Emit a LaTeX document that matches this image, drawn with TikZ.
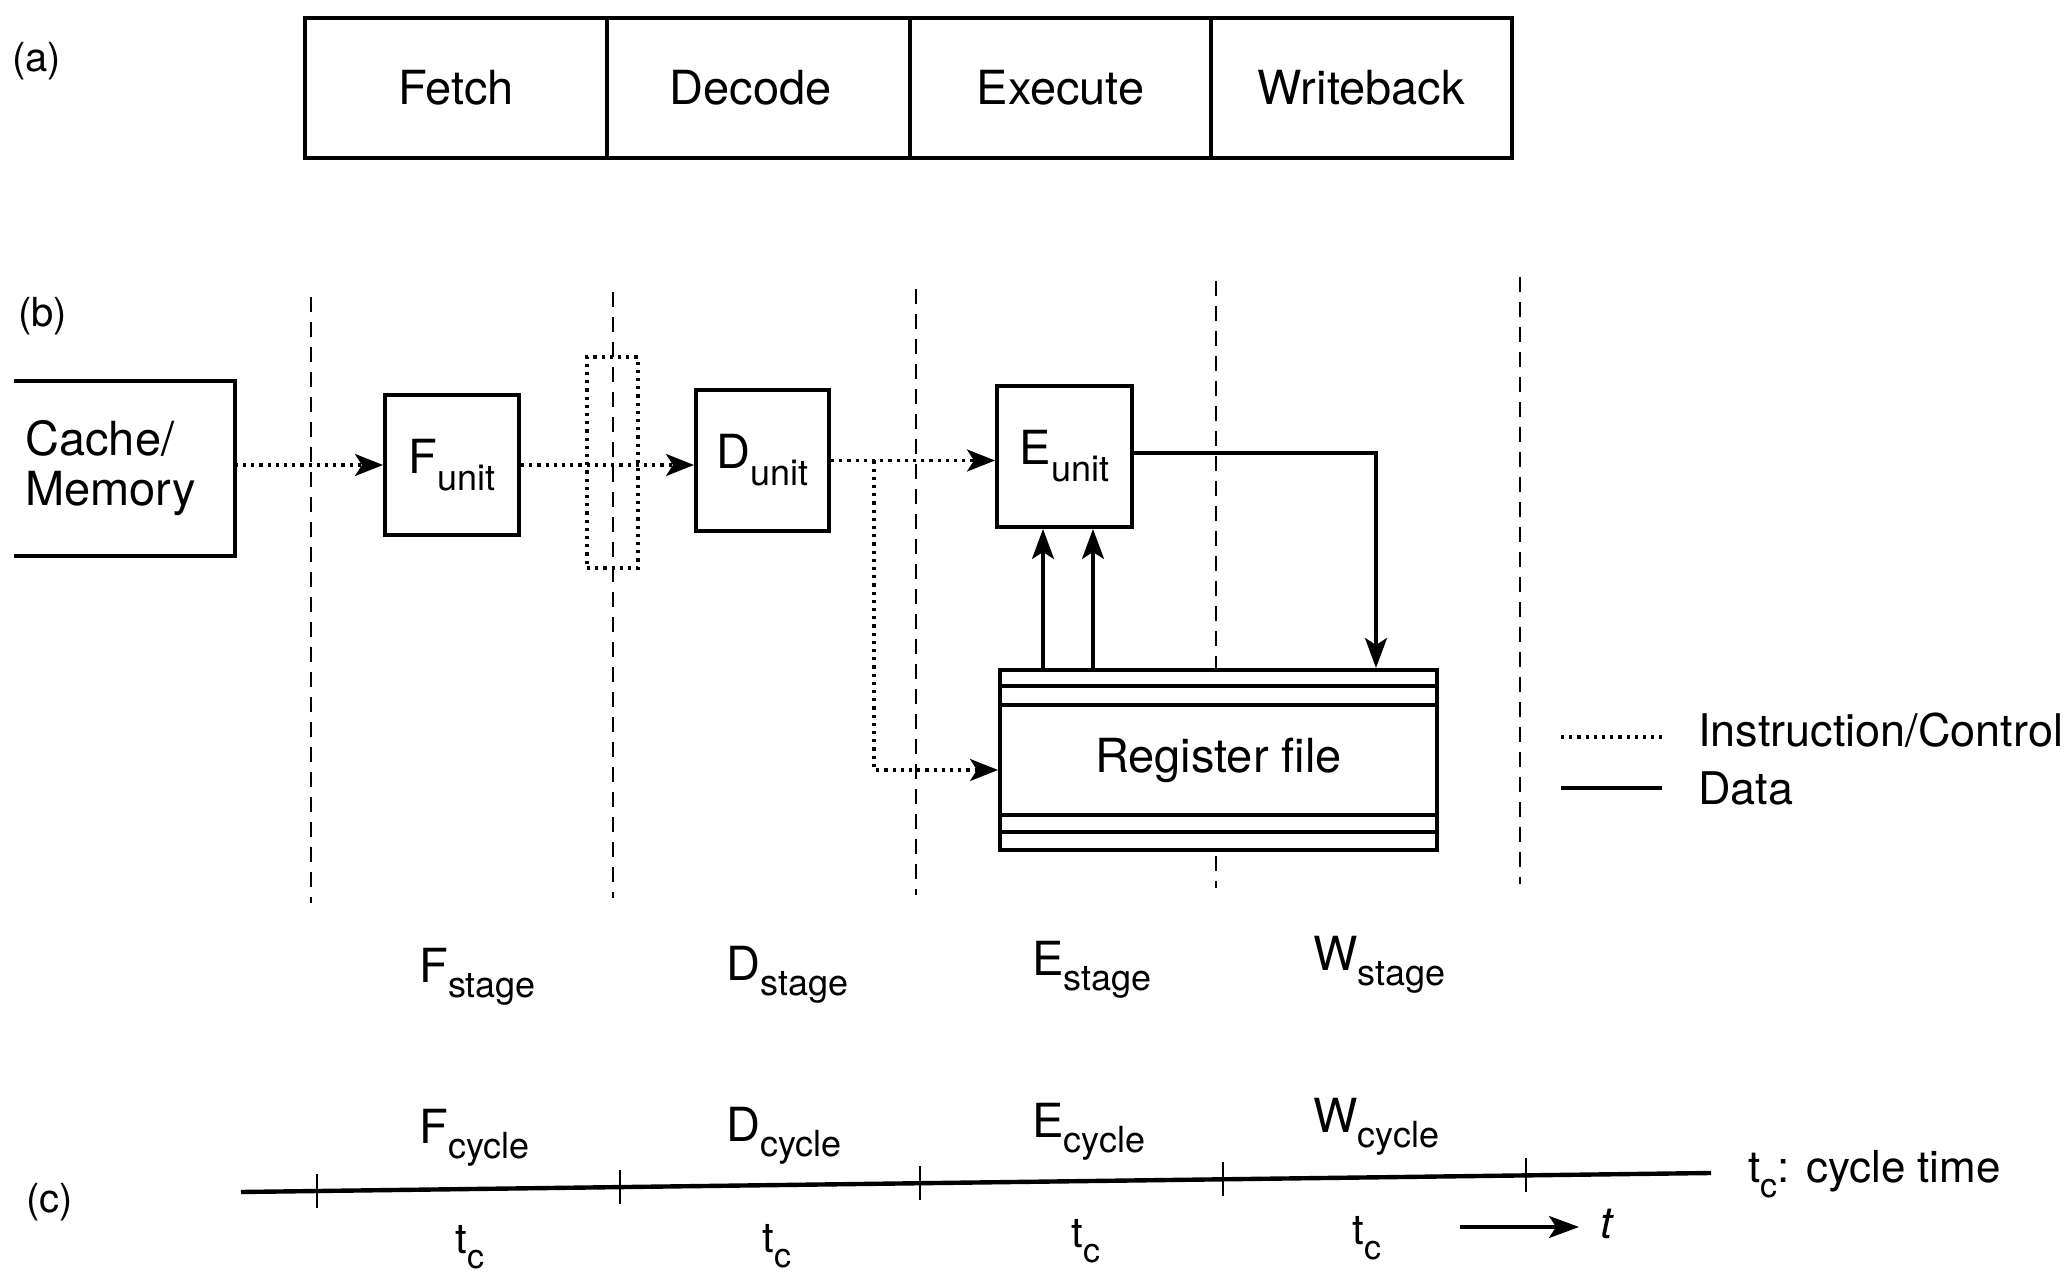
\documentclass[tikz,border=0pt]{standalone}
\usepackage{fontspec}
\setmainfont{TeX Gyre Heros}
\usetikzlibrary{arrows.meta,calc}
\newcommand\lowsub[1]{\raisebox{-8.5pt}{\fontsize{18}{18}\selectfont #1}}
\newcommand\lowsubS[1]{\raisebox{-7.5pt}{\fontsize{18}{18}\selectfont #1}}
\newcommand\lowsubT[1]{\raisebox{-7.5pt}{\fontsize{17}{17}\selectfont #1}}
\begin{document}
\begin{tikzpicture}[x=0.5pt,y=-0.5pt,
  every node/.style={inner sep=0pt, font=\fontsize{23.5}{25}\selectfont},
  box/.style={draw, line width=2pt},
  cell/.style={draw, line width=2pt, minimum height=70pt},
  latch/.style={draw, line width=1.6pt, dash pattern=on 1.6pt off 2.5pt},
  stagedash/.style={line width=1pt, dash pattern=on 7.5pt off 5pt},
  ctrlline/.style={line width=1.6pt, dash pattern=on 1.6pt off 2.5pt},
  ctrl/.style={ctrlline, -{Stealth[length=14pt,width=11pt,inset=3.5pt]}},
  dataline/.style={line width=1.6pt},
  data/.style={dataline, -{Stealth[length=15pt,width=11pt,inset=3.5pt]}},
  plabel/.style={anchor=base west, font=\fontsize{20}{20}\selectfont},
  tlabel/.style={anchor=base west},
  tclabel/.style={anchor=base west, font=\fontsize{21}{21}\selectfont},
  legtext/.style={anchor=base west, font=\fontsize{22.5}{22.5}\selectfont}
]
\useasboundingbox (0,0) rectangle (2069,1272);

% (a) pipeline stages
\node[plabel] (la) at (12,72) {(a)};
\node[cell, minimum width=151pt]   (fetch) at (456,88)    {Fetch};
\node[cell, minimum width=151.5pt] (decode) at (758.5,88) {Decode\hspace*{8pt}};
\node[cell, minimum width=150.5pt] (execute) at (1060.5,88) {Execute};
\node[cell, minimum width=150.5pt] (writeback) at (1361.5,88) {Writeback};

% (b)
\node[plabel] (lb) at (18,327) {(b)};

% stage boundaries
\foreach \x/\a/\b [count=\i] in {311/297/903, 613/292/898, 916/289/895, 1216/281/888, 1520/277/884} {
  \coordinate (vt\i) at (\x,\a);
  \coordinate (vb\i) at (\x,\b);
  \draw[stagedash] (vt\i) -- (vb\i);
}

% units
\node[anchor=west, minimum width=110pt, minimum height=87.5pt, text width=99pt,
      inner xsep=5.5pt, align=left] (cache) at (14,468.5) {Cache/\\Memory};
\draw[box] (cache.north west) -- (cache.north east) -- (cache.south east) -- (cache.south west);

\node[box, fill=white, minimum width=67pt, minimum height=70pt] (F) at (452,465) {F\lowsub{unit}};
\node[latch, minimum width=25.5pt, minimum height=105.5pt] (L) at (612.5,462.5) {};
\node[box, fill=white, minimum width=66.5pt, minimum height=70.5pt] (D) at (762.5,460.5) {D\lowsub{unit}};
\node[box, fill=white, minimum width=67.5pt, minimum height=70.5pt] (E) at (1064.5,456.5) {E\lowsub{unit}};

\node[draw, line width=2pt, fill=white, minimum width=218.5pt, minimum height=90pt] (reg) at (1218.5,760) {Register file};
\draw[line width=2pt] ([yshift=-9pt]reg.north west) -- ([yshift=-9pt]reg.north east);
\draw[line width=2pt] ([yshift=-18.5pt]reg.north west) -- ([yshift=-18.5pt]reg.north east);
\draw[line width=2pt] ([yshift=18.5pt]reg.south west) -- ([yshift=18.5pt]reg.south east);
\draw[line width=2pt] ([yshift=10pt]reg.south west) -- ([yshift=10pt]reg.south east);

% instruction / control flow
\draw[ctrl] (cache.east |- F.west) -- (F.west);
\draw[ctrl] (F.east) -- (F.east -| D.west);
\draw[ctrl] (D.east) -- (D.east -| E.west);
\coordinate (br) at ([xshift=21.5pt]D.east);
\draw[ctrl] (br) |- ([yshift=-5pt]reg.west);

% data flow
\coordinate (u1) at ([xshift=-10.75pt]E.south);
\coordinate (u2) at ([xshift=14.25pt]E.south);
\draw[data] (u1 |- reg.north) -- (u1);
\draw[data] (u2 |- reg.north) -- (u2);
\coordinate (w1) at ([xshift=78.75pt]reg.north);
\draw[data] ([yshift=1.75pt]E.east) -| (w1);

% legend
\coordinate (lg1a) at (1561,737); \coordinate (lg1b) at (1662,737);
\coordinate (lg2a) at (1561,788); \coordinate (lg2b) at (1662,788);
\draw[ctrlline] (lg1a) -- (lg1b);
\draw[dataline] (lg2a) -- (lg2b);
\node[legtext] (leg1) at (1698,747) {Instruction/Control};
\node[legtext] (leg2) at (1698,805) {Data};

% stage and cycle labels
\node[tlabel] (fs) at (419,982) {F\lowsubS{stage}};
\node[tlabel] (ds) at (726,980) {D\lowsubS{stage}};
\node[tlabel] (es) at (1032,976) {E\lowsubS{stage}};
\node[tlabel] (ws) at (1313,971) {W\lowsubS{stage}};
\node[tlabel] (fc) at (419,1143) {F\lowsubS{cycle}};
\node[tlabel] (dc) at (726,1141) {D\lowsubS{cycle}};
\node[tlabel] (ec) at (1032,1137) {E\lowsubS{cycle}};
\node[tlabel] (wc) at (1313,1132) {W\lowsubS{cycle}};

% (c) time axis
\node[plabel] (lc) at (26,1212) {(c)};
\coordinate (axL) at (241,1192);
\coordinate (axR) at (1711,1173);
\draw[line width=2.2pt] (axL) -- (axR);
\foreach \f in {0.0517,0.2578,0.4619,0.668,0.8741} {
  \draw[line width=1pt] ($(axL)!\f!(axR)$) ++(0,-17) -- ++(0,34);
}
\node[tclabel] (t1) at (455,1253) {t\lowsubT{c}};
\node[tclabel] (t2) at (762,1252) {t\lowsubT{c}};
\node[tclabel] (t3) at (1071,1247) {t\lowsubT{c}};
\node[tclabel] (t4) at (1352,1244) {t\lowsubT{c}};
\node[anchor=base west, font=\fontsize{22}{22}\selectfont] (tcdef) at (1748,1182) {t\lowsubT{c}: cycle time};
\coordinate (ta) at (1460,1227);
\coordinate (tb) at (1579,1227);
\draw[data] (ta) -- (tb);
\node[anchor=base west, font=\fontsize{22}{22}\selectfont] (tt) at (1600,1238) {\textit{t}};
\end{tikzpicture}
\end{document}
